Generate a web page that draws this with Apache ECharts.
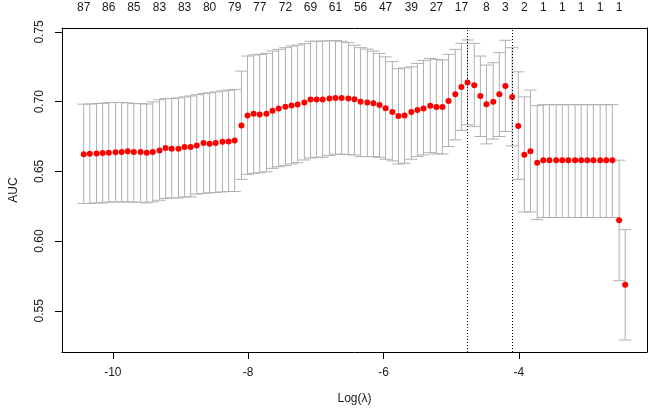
<!DOCTYPE html>
<html>
<head>
<meta charset="utf-8">
<script src="https://cdn.jsdelivr.net/npm/echarts@6/dist/echarts.min.js"></script>
<style>
  html, body { margin: 0; padding: 0; background: #fff; }
  #main { width: 649px; height: 410px; }
</style>
</head>
<body>
<div id="main"></div>
<script>
// log(lambda) grid
var lambdas = [-10.43,-10.34,-10.24,-10.15,-10.06,-9.96,-9.87,-9.78,-9.69,-9.59,
  -9.50,-9.41,-9.31,-9.22,-9.13,-9.03,-8.94,-8.85,-8.76,-8.66,
  -8.57,-8.48,-8.38,-8.29,-8.20,-8.10,-8.01,-7.92,-7.83,-7.73,
  -7.64,-7.55,-7.45,-7.36,-7.27,-7.17,-7.08,-6.99,-6.90,-6.80,
  -6.71,-6.62,-6.52,-6.43,-6.34,-6.24,-6.15,-6.06,-5.97,-5.87,
  -5.78,-5.69,-5.59,-5.50,-5.41,-5.31,-5.22,-5.13,-5.04,-4.94,
  -4.85,-4.76,-4.66,-4.57,-4.48,-4.38,-4.29,-4.20,-4.10,-4.01,
  -3.92,-3.83,-3.73,-3.64,-3.55,-3.45,-3.36,-3.27,-3.17,-3.08,
  -2.99,-2.90,-2.80,-2.71,-2.62,-2.52,-2.43];

// mean AUC
var cvm = [0.6623,0.6626,0.6628,0.6631,0.6634,0.6637,0.6639,0.6644,0.6639,0.6639,
  0.6634,0.6639,0.6649,0.6668,0.6663,0.6663,0.6675,0.6675,0.6686,0.6704,
  0.6698,0.6704,0.6712,0.6715,0.6722,0.6829,0.6901,0.6913,0.6908,0.6913,
  0.6934,0.6951,0.6963,0.6973,0.6980,0.6994,0.7016,0.7016,0.7016,0.7022,
  0.7027,0.7027,0.7022,0.7017,0.7000,0.6993,0.6988,0.6976,0.6952,0.6926,
  0.6897,0.6901,0.6926,0.6940,0.6950,0.6971,0.6962,0.6962,0.7005,0.7053,
  0.7105,0.7137,0.7118,0.7041,0.6981,0.7000,0.7053,0.7113,0.7034,0.6825,
  0.6620,0.6644,0.6562,0.6580,0.6580,0.6580,0.6580,0.6580,0.6580,0.6580,
  0.6580,0.6580,0.6580,0.6580,0.6580,0.6149,0.5688];

// upper / lower bars
var cvup = [0.6982,0.6983,0.6986,0.6988,0.6993,0.6994,0.6994,0.6991,0.6986,0.6986,
  0.6983,0.6998,0.7014,0.7022,0.7022,0.7027,0.7034,0.7041,0.7050,0.7058,
  0.7063,0.7070,0.7077,0.7082,0.7087,0.7219,0.7327,0.7335,0.7339,0.7346,
  0.7363,0.7375,0.7387,0.7399,0.7406,0.7416,0.7433,0.7433,0.7435,0.7436,
  0.7438,0.7433,0.7423,0.7404,0.7387,0.7377,0.7363,0.7346,0.7321,0.7287,
  0.7236,0.7242,0.7250,0.7274,0.7296,0.7310,0.7303,0.7299,0.7339,0.7375,
  0.7418,0.7442,0.7418,0.7327,0.7262,0.7279,0.7351,0.7440,0.7387,0.7214,
  0.7034,0.7083,0.6971,0.6978,0.6978,0.6978,0.6978,0.6978,0.6978,0.6978,
  0.6978,0.6978,0.6978,0.6978,0.6978,0.6580,0.6082];

var cvlo = [0.6270,0.6270,0.6274,0.6274,0.6281,0.6281,0.6281,0.6281,0.6279,0.6279,
  0.6274,0.6281,0.6293,0.6306,0.6310,0.6310,0.6317,0.6317,0.6337,0.6342,
  0.6346,0.6349,0.6353,0.6356,0.6356,0.6443,0.6479,0.6486,0.6490,0.6497,
  0.6522,0.6533,0.6541,0.6553,0.6562,0.6582,0.6596,0.6601,0.6601,0.6613,
  0.6623,0.6623,0.6620,0.6618,0.6606,0.6606,0.6606,0.6601,0.6587,0.6575,
  0.6553,0.6558,0.6587,0.6606,0.6618,0.6634,0.6625,0.6625,0.6678,0.6726,
  0.6794,0.6834,0.6823,0.6750,0.6697,0.6731,0.6750,0.6786,0.6683,0.6443,
  0.6209,0.6209,0.6154,0.6169,0.6169,0.6169,0.6169,0.6169,0.6169,0.6169,
  0.6169,0.6169,0.6169,0.6169,0.6169,0.5716,0.5291];

// top axis: number of non-zero coefs
var nzAt = [-10.43,-10.06,-9.69,-9.31,-8.94,-8.57,-8.20,-7.83,-7.45,-7.08,-6.71,-6.34,
  -5.97,-5.59,-5.22,-4.85,-4.48,-4.20,-3.92,-3.64,-3.36,-3.08,-2.80,-2.52];
var nzLabels = ['87','86','85','83','83','80','79','77','72','69','61','56',
  '47','39','27','17','8','3','2','1','1','1','1','1'];

var xTicks = [-10, -8, -6, -4];
var yTicks = [0.55, 0.60, 0.65, 0.70, 0.75];
var lambdaMin = -4.76;
var lambda1se = -4.10;

var X_MIN = -10.751, X_MAX = -2.108;
var Y_MIN = 0.5205, Y_MAX = 0.7528;
var CAP = 0.09;
var FONT = '"Liberation Sans", Arial, sans-serif';
var TXT = '#1a1a1a';

var myChart = echarts.init(document.getElementById('main'));
myChart.setOption({
  animation: false,
  grid: { left: 59, right: 2, top: 28, bottom: 58 },
  xAxis: [
    {
      type: 'value', position: 'bottom', min: X_MIN, max: X_MAX,
      name: 'Log(λ)', nameLocation: 'middle', nameGap: 41,
      nameTextStyle: { fontSize: 12, color: TXT, fontFamily: FONT },
      axisLine: { show: true, lineStyle: { color: '#000', width: 1 } },
      axisTick: { show: true, length: 7, customValues: xTicks, lineStyle: { color: '#000' } },
      axisLabel: {
        customValues: xTicks, margin: 15, fontSize: 12, color: TXT, fontFamily: FONT,
        formatter: function (v) { return String(v); }
      },
      splitLine: { show: false }
    },
    {
      type: 'value', position: 'top', min: X_MIN, max: X_MAX,
      axisLine: { show: true, onZero: false, lineStyle: { color: '#000', width: 1 } },
      axisTick: { show: false },
      axisLabel: {
        customValues: nzAt, margin: 14, fontSize: 12, color: TXT, fontFamily: FONT,
        formatter: function (v) {
          for (var i = 0; i < nzAt.length; i++) {
            if (Math.abs(nzAt[i] - v) < 1e-6) return nzLabels[i];
          }
          return '';
        }
      },
      splitLine: { show: false }
    }
  ],
  yAxis: [
    {
      type: 'value', position: 'left', min: Y_MIN, max: Y_MAX,
      name: 'AUC', nameLocation: 'middle', nameGap: 42, nameRotate: 90,
      nameTextStyle: { fontSize: 12, color: TXT, fontFamily: FONT },
      axisLine: { show: true, lineStyle: { color: '#000', width: 1 } },
      axisTick: { show: true, length: 7, customValues: yTicks, lineStyle: { color: '#000' } },
      axisLabel: {
        customValues: yTicks, rotate: 90, margin: 16, fontSize: 12, color: TXT, fontFamily: FONT,
        formatter: function (v) { return v.toFixed(2); }
      },
      splitLine: { show: false }
    },
    {
      type: 'value', position: 'right', min: Y_MIN, max: Y_MAX,
      axisLine: { show: true, onZero: false, lineStyle: { color: '#000', width: 1 } },
      axisTick: { show: false },
      axisLabel: { show: false },
      splitLine: { show: false }
    }
  ],
  series: [
    {
      // error bars with caps
      type: 'custom',
      z: 1,
      encode: { x: 0, y: [1, 2] },
      data: lambdas.map(function (l, i) { return [l, cvup[i], cvlo[i]]; }),
      renderItem: function (params, api) {
        var x = api.value(0);
        var top = api.coord([x, api.value(1)]);
        var bot = api.coord([x, api.value(2)]);
        var l = api.coord([x - CAP, api.value(1)])[0];
        var r = api.coord([x + CAP, api.value(1)])[0];
        var st = { stroke: '#b0b0b0', lineWidth: 1 };
        return {
          type: 'group',
          children: [
            { type: 'line', shape: { x1: top[0], y1: top[1], x2: bot[0], y2: bot[1] }, style: st },
            { type: 'line', shape: { x1: l, y1: top[1], x2: r, y2: top[1] }, style: st },
            { type: 'line', shape: { x1: l, y1: bot[1], x2: r, y2: bot[1] }, style: st }
          ]
        };
      }
    },
    {
      type: 'scatter',
      z: 3,
      symbol: 'circle',
      symbolSize: 6,
      itemStyle: { color: '#ff0000', opacity: 1 },
      data: lambdas.map(function (l, i) { return [l, cvm[i]]; }),
      markLine: {
        silent: true,
        symbol: 'none',
        label: { show: false },
        lineStyle: { color: '#000', width: 1, type: [1, 2] },
        data: [{ xAxis: lambdaMin }, { xAxis: lambda1se }]
      }
    }
  ]
});
</script>
</body>
</html>
